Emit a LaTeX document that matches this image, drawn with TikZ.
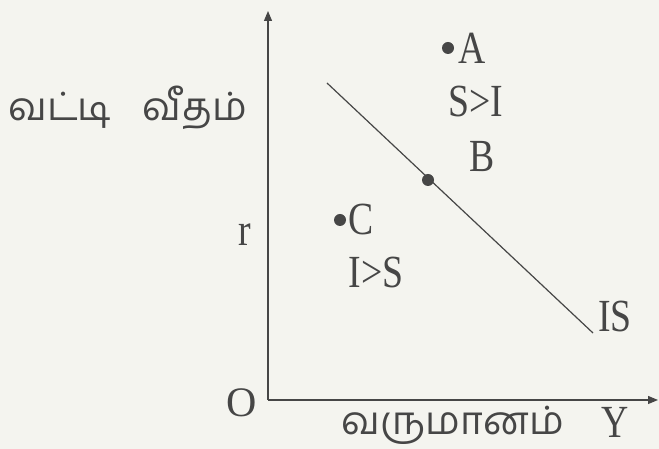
\documentclass[tikz,border=0pt]{standalone}
\usepackage{fontspec}
\setmainfont[FakeStretch=0.82]{Liberation Serif}
\newfontfamily\roundfont{Liberation Serif}
\newfontfamily\tamilfont[Script=Tamil]{Hind Madurai}
\usetikzlibrary{positioning,arrows.meta}

\definecolor{paper}{RGB}{244,244,239}
\definecolor{ink}{RGB}{70,70,70}

\begin{document}
\begin{tikzpicture}[
        x=1pt, y=1pt,
        every node/.style={text=ink, inner sep=0pt},
        axis/.style={draw=ink, line width=1.2pt, -{Triangle[length=10pt,width=8pt]}},
        curve/.style={draw=ink, line width=1.2pt},
        dot/.style={circle, fill=ink, minimum size=12pt},
        lbl/.style={font=\fontsize{46}{46}\selectfont},
        tamil/.style={font=\tamilfont\fontsize{39}{39}\selectfont}
    ]
        \fill[paper] (0,0) rectangle (659,449);
        \useasboundingbox (0,0) rectangle (659,449);

        % axes
        \coordinate (o)    at (268,49);
        \coordinate (ytip) at (268,438);
        \coordinate (xtip) at (658,49);
        \draw[axis] (o) -- (ytip);
        \draw[axis] (o) -- (xtip);
        \node[lbl, font=\roundfont\fontsize{42}{42}\selectfont] (origin) at (242,46) {O};
        \node[lbl] (r)      at (245,214) {r};
        \node[lbl] (y)      at (615,27) {Y};
        \node[tamil] (rate)   at (128,341) {வட்டி\hspace{0.8em}வீதம்};
        \node[tamil] (income) at (453,24) {வருமானம்};

        % IS curve
        \coordinate (is1) at (327,366);
        \coordinate (is2) at (593,116);
        \draw[curve] (is1) -- (is2);
        \node[lbl, right=5pt of is2, yshift=16pt] (islbl) {IS};

        % points
        \node[dot] (a) at (448,401) {};
        \node[dot] (b) at (428,269) {};
        \node[dot] (c) at (340,229) {};
        \node[lbl, right=4pt of a] (albl) {A};
        \node[lbl] (blbl) at (482,292) {B};
        \node[lbl, right=2pt of c] (clbl) {C};
        \node[lbl] (si) at (476,347) {S>I};
        \node[lbl] (is) at (376,176) {I>S};
    \end{tikzpicture}
\end{document}
